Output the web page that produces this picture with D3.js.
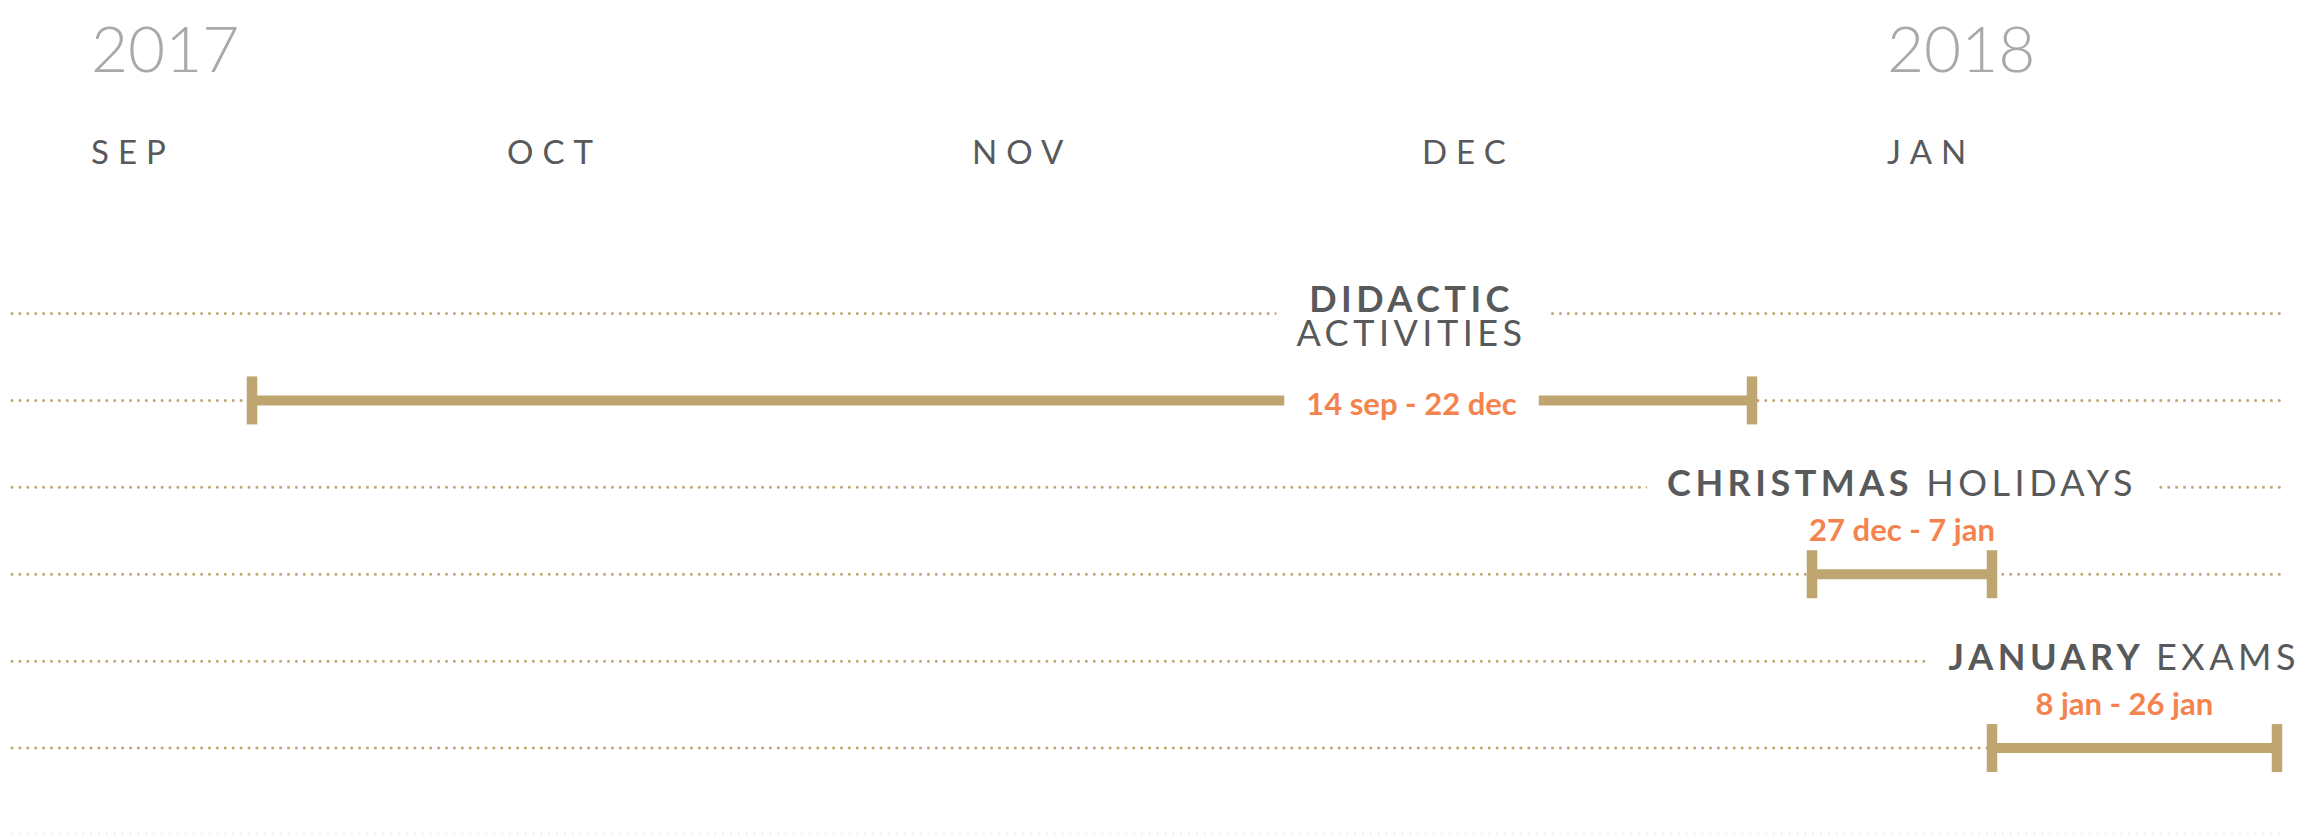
<!DOCTYPE html>
<html>
<head>
<meta charset="utf-8">
<script src="https://cdn.jsdelivr.net/npm/d3@7"></script>
<style>
  body { margin: 0; background: #fff; }
  svg { display: block; font-family: Lato, "Open Sans", sans-serif; }
</style>
</head>
<body>
<svg></svg>
<script>
const width = 2304;
const height = 834;

// data
const titleBold = ["DIDACTIC", "CHRISTMAS", "JANUARY"];
const titleRest = ["ACTIVITIES", "HOLIDAYS", "EXAMS"];
const startDates = ["2017-09-14", "2017-12-27", "2018-01-08"];
const endDates = ["2017-12-22", "2018-01-07", "2018-01-26"];
const timeSpan = ["2017-09-01", "2018-01-27"];

const tan = "#bfa670";
const grey = "#58595b";
const orange = "#f5834e";

const parse = d3.utcParse("%Y-%m-%d");
const fmtDay = d3.utcFormat("%-d %b");
const fmtMonth = d3.utcFormat("%b");
const fmtYear = d3.utcFormat("%Y");

const svg = d3.select("svg").attr("width", width).attr("height", height);

const x = d3.scaleUtc()
    .domain(timeSpan.map(parse))
    .range([57, 2277]);

// rows: title row + bar row for each period, plus one trailing row
const nRows = titleBold.length * 2 + 1;
const y = d3.scaleLinear().domain([0, nRows - 1]).range([313.5, 835]);

const lineLeft = 12, lineRight = 2282, labelLeft = 91, textRight = 2300;

// months + years
const months = d3.utcMonth.range(...x.domain());
const monthX = d => Math.max(x(d), labelLeft);

svg.append("g").selectAll("text")
    .data(months)
    .join("text")
    .attr("x", monthX)
    .attr("y", 164)
    .attr("fill", grey)
    .attr("font-size", 33)
    .attr("letter-spacing", 9)
    .text(d => fmtMonth(d).toUpperCase());

svg.append("g").selectAll("text")
    .data(months.filter((d, i) => i === 0 || d.getUTCMonth() === 0))
    .join("text")
    .attr("x", monthX)
    .attr("y", 72)
    .attr("fill", "#a7a9ac")
    .attr("font-size", 64)
    .attr("font-weight", 300)
    .text(fmtYear);

// dotted guide lines
svg.append("g").selectAll("line")
    .data(d3.range(nRows))
    .join("line")
    .attr("x1", lineLeft)
    .attr("x2", lineRight)
    .attr("y1", y)
    .attr("y2", y)
    .attr("stroke", tan)
    .attr("stroke-width", 3)
    .attr("stroke-linecap", "round")
    .attr("stroke-dasharray", "0 7.9");

const periods = titleBold.map((t, i) => ({
  bold: t,
  rest: titleRest[i],
  start: parse(startDates[i]),
  end: parse(endDates[i]),
  row: i * 2
}));

periods.forEach(p => {
  const x0 = x(p.start);
  const x1 = x(d3.utcDay.offset(p.end, 1));
  const wide = x1 - x0 > 600;
  const yt = y(p.row), yb = y(p.row + 1);
  let cx = wide ? d3.interpolateNumber(x0, x1)(0.773) : (x0 + x1) / 2;
  const g = svg.append("g");

  // title
  const tBox = g.append("rect").attr("fill", "#fff");
  const title = g.append("text")
      .attr("fill", grey)
      .attr("font-size", 36)
      .attr("letter-spacing", 4.5)
      .attr("text-anchor", "middle")
      .attr("x", cx);
  if (wide) {
    title.append("tspan").attr("x", cx).attr("y", yt - 2).attr("font-weight", 700).text(p.bold);
    title.append("tspan").attr("x", cx).attr("y", yt + 32.5).text(p.rest);
  } else {
    title.attr("y", yt + 9);
    title.append("tspan").attr("font-weight", 700).text(p.bold + " ");
    title.append("tspan").text(p.rest);
    const bb = title.node().getBBox();
    if (bb.x + bb.width > textRight) {
      cx -= bb.x + bb.width - textRight;
      title.attr("x", cx);
    }
  }
  const tb = title.node().getBBox();
  tBox.attr("x", tb.x - 20).attr("y", yt - 6).attr("width", tb.width + 40).attr("height", 12);

  // bar with end caps
  g.append("line")
      .attr("x1", x0).attr("x2", x1)
      .attr("y1", yb).attr("y2", yb)
      .attr("stroke", tan)
      .attr("stroke-width", 10);
  g.selectAll(".cap")
      .data([x0, x1])
      .join("rect")
      .attr("class", "cap")
      .attr("x", d => d - 5.25)
      .attr("y", yb - 24)
      .attr("width", 10.5)
      .attr("height", 48)
      .attr("fill", tan);

  // date range label
  const dBox = g.append("rect").attr("fill", "#fff");
  const label = g.append("text")
      .attr("x", cx)
      .attr("y", wide ? yb + 15 : yb - 33)
      .attr("text-anchor", "middle")
      .attr("fill", orange)
      .attr("font-size", 31)
      .attr("font-weight", 700)
      .text(`${fmtDay(p.start)} - ${fmtDay(p.end)}`.toLowerCase());
  if (wide) {
    const lb = label.node().getBBox();
    dBox.attr("x", lb.x - 22).attr("y", yb - 8).attr("width", lb.width + 44).attr("height", 16);
  }
});
</script>
</body>
</html>
